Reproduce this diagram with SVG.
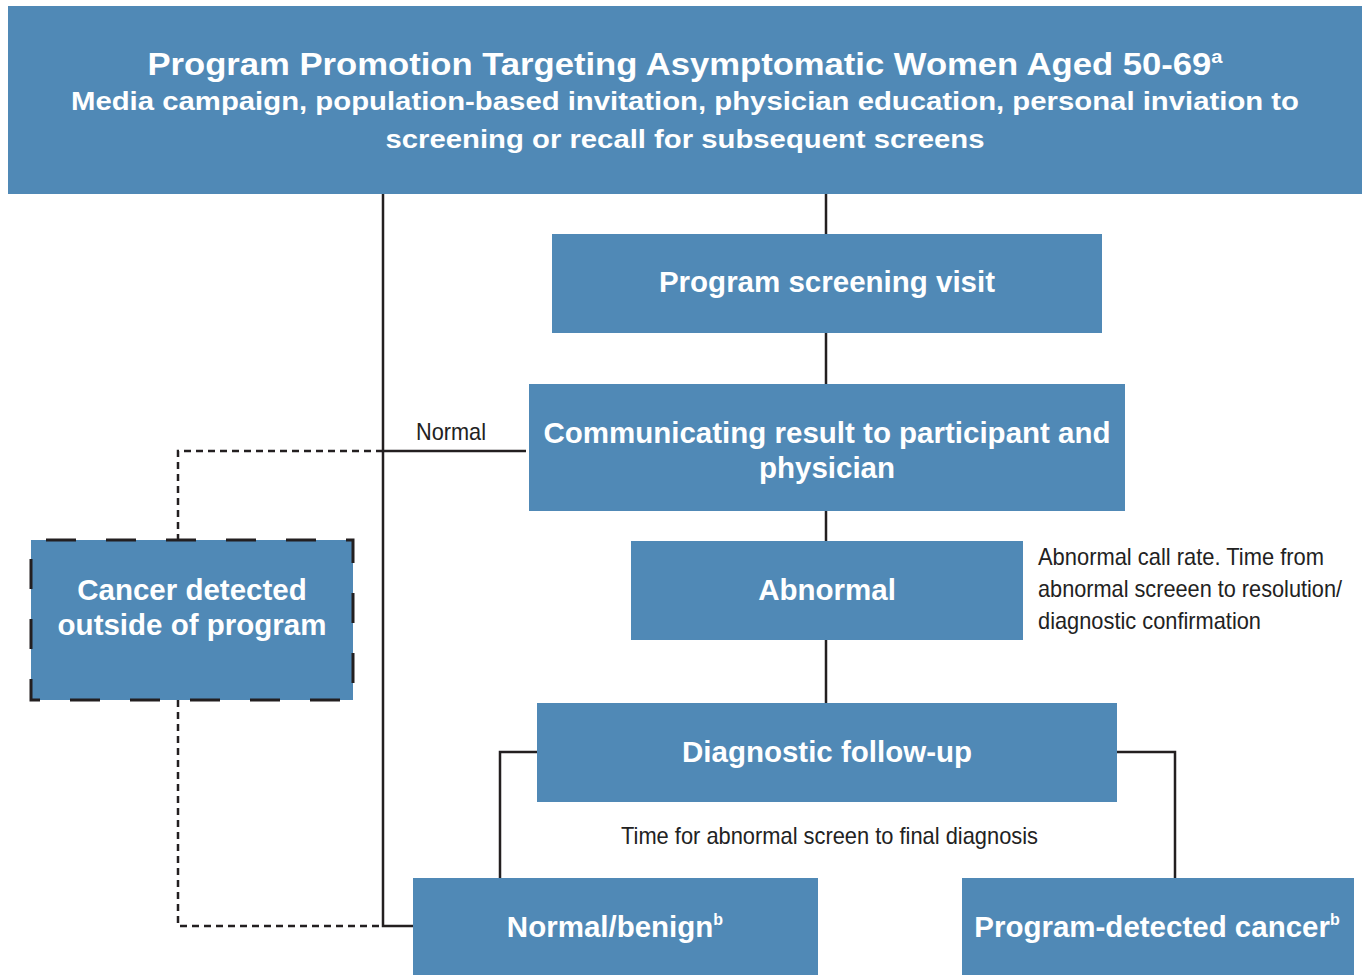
<svg xmlns="http://www.w3.org/2000/svg" width="1364" height="975" viewBox="0 0 1364 975">
  <style>
    .box { fill: #5089b6; }
    .lbl { font-family: "Liberation Sans", Arial, sans-serif; font-weight: bold; fill: #ffffff; text-anchor: middle; }
    .note { font-family: "Liberation Sans", Arial, sans-serif; fill: #222222; font-size: 24px; }
    .wire { fill: none; stroke: #231f20; stroke-width: 2.5; }
    .dash { fill: none; stroke: #231f20; stroke-width: 2.5; stroke-dasharray: 7 5; }
  </style>
  <rect width="1364" height="975" fill="#ffffff"/>

  <g id="connectors">
    <path class="wire" d="M383 194 V926 H413"/>
    <path class="wire" d="M826 194 V234 M826 333 V384 M826 511 V541 M826 640 V703"/>
    <path class="wire" d="M383 451 H526"/>
    <path class="dash" d="M383 451 H178 V540"/>
    <path class="dash" d="M178 700 V926 H383"/>
    <path class="wire" d="M537 752 H500 V880"/>
    <path class="wire" d="M1117 752 H1175 V878"/>
  </g>

  <g id="promotion">
    <rect class="box" x="8" y="6" width="1354" height="188"/>
    <text class="lbl" font-size="31" x="685" y="75" textLength="1075" lengthAdjust="spacingAndGlyphs">Program Promotion Targeting Asymptomatic Women Aged 50-69<tspan font-size="18" dy="-12">a</tspan></text>
    <text class="lbl" font-size="26" x="685" y="110" textLength="1228" lengthAdjust="spacingAndGlyphs">Media campaign, population-based invitation, physician education, personal inviation to</text>
    <text class="lbl" font-size="26" x="685" y="148" textLength="599" lengthAdjust="spacingAndGlyphs">screening or recall for subsequent screens</text>
  </g>

  <g id="screening-visit">
    <rect class="box" x="552" y="234" width="550" height="99"/>
    <text class="lbl" font-size="29.5" x="827" y="292">Program screening visit</text>
  </g>

  <g id="communicating">
    <rect class="box" x="529" y="384" width="596" height="127"/>
    <text class="lbl" font-size="29.5" x="827" y="443">Communicating result to participant and</text>
    <text class="lbl" font-size="29.5" x="827" y="478">physician</text>
  </g>

  <g id="abnormal">
    <rect class="box" x="631" y="541" width="392" height="99"/>
    <text class="lbl" font-size="29.5" x="827" y="600">Abnormal</text>
  </g>

  <g id="diagnostic">
    <rect class="box" x="537" y="703" width="580" height="99"/>
    <text class="lbl" font-size="29.5" x="827" y="762">Diagnostic follow-up</text>
  </g>

  <g id="normal-benign">
    <rect class="box" x="413" y="878" width="405" height="97"/>
    <text class="lbl" font-size="29.5" x="615" y="937">Normal/benign<tspan font-size="16" dy="-12">b</tspan></text>
  </g>

  <g id="program-cancer">
    <rect class="box" x="962" y="878" width="392" height="97"/>
    <text class="lbl" font-size="29.5" x="1157" y="937">Program-detected cancer<tspan font-size="16" dy="-12">b</tspan></text>
  </g>

  <g id="outside-cancer">
    <rect class="box" x="31" y="540" width="322" height="160"/>
    <rect x="31" y="540" width="322" height="160" fill="none" stroke="#231f20" stroke-width="3" stroke-dasharray="30 30" stroke-dashoffset="-15"/>
    <text class="lbl" font-size="29.5" x="192" y="600">Cancer detected</text>
    <text class="lbl" font-size="29.5" x="192" y="635">outside of program</text>
  </g>

  <g id="notes">
    <text class="note" x="416" y="440" textLength="70" lengthAdjust="spacingAndGlyphs">Normal</text>
    <text class="note" x="1038" y="565" textLength="286" lengthAdjust="spacingAndGlyphs">Abnormal call rate. Time from</text>
    <text class="note" x="1038" y="597" textLength="304" lengthAdjust="spacingAndGlyphs">abnormal screeen to resolution/</text>
    <text class="note" x="1038" y="629" textLength="223" lengthAdjust="spacingAndGlyphs">diagnostic confirmation</text>
    <text class="note" x="621" y="844" textLength="417" lengthAdjust="spacingAndGlyphs">Time for abnormal screen to final diagnosis</text>
  </g>
</svg>
